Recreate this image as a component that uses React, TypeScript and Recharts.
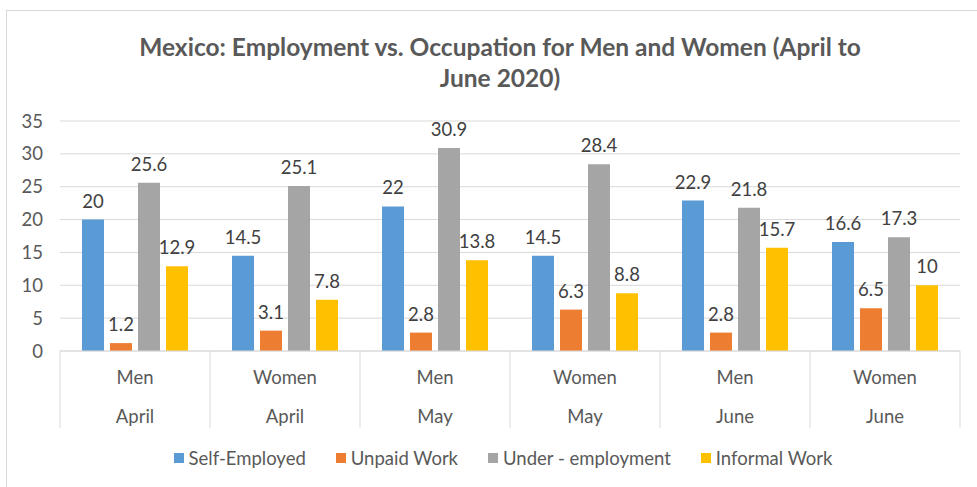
import React from "react";
import {
  BarChart,
  Bar,
  XAxis,
  YAxis,
  CartesianGrid,
  Legend,
  LabelList,
} from "recharts";

const sexes = ["Men", "Women", "Men", "Women", "Men", "Women"];
const months = ["April", "April", "May", "May", "June", "June"];
const selfEmployed = [20, 14.5, 22, 14.5, 22.9, 16.6];
const unpaidWork = [1.2, 3.1, 2.8, 6.3, 2.8, 6.5];
const underEmployment = [25.6, 25.1, 30.9, 28.4, 21.8, 17.3];
const informalWork = [12.9, 7.8, 13.8, 8.8, 15.7, 10];
const yTicks = [0, 5, 10, 15, 20, 25, 30, 35];

const seriesList = [
  { key: "selfEmployed", name: "Self-Employed", color: "#5B9BD5" },
  { key: "unpaidWork", name: "Unpaid Work", color: "#ED7D31" },
  { key: "underEmployment", name: "Under - employment", color: "#A5A5A5" },
  { key: "informalWork", name: "Informal Work", color: "#FFC000" },
];

const data = sexes.map((sex, i) => ({
  sex,
  month: months[i],
  selfEmployed: selfEmployed[i],
  unpaidWork: unpaidWork[i],
  underEmployment: underEmployment[i],
  informalWork: informalWork[i],
}));

const FONT = "Lato, 'Open Sans', sans-serif";
const TEXT = "#595959";
const GRID = "#d9d9d9";
const FS = 18.5;

// category label plus the divider lines between categories
function SexTick(props: any) {
  const { x, y, payload } = props;
  const half = payload.offset || 75;
  const last = payload.index === data.length - 1;
  return (
    <g>
      <line x1={x - half} x2={x - half} y1={y} y2={y + 77} stroke={GRID} />
      {last && <line x1={x + half} x2={x + half} y1={y} y2={y + 77} stroke={GRID} />}
      <text x={x} y={y + 26} textAnchor="middle" dominantBaseline="central" fill={TEXT} fontSize={FS} fontFamily={FONT}>
        {payload.value}
      </text>
    </g>
  );
}

function MonthTick(props: any) {
  const { x, y, payload } = props;
  return (
    <text x={x} y={y + 26} textAnchor="middle" dominantBaseline="central" fill={TEXT} fontSize={FS} fontFamily={FONT}>
      {payload.value}
    </text>
  );
}

function LegendContent() {
  return (
    <div
      style={{
        height: 58,
        display: "flex",
        alignItems: "center",
        justifyContent: "center",
        gap: 30,
        paddingLeft: 36,
        fontFamily: FONT,
        fontSize: FS,
        color: TEXT,
      }}
    >
      {seriesList.map((s) => (
        <div key={s.key} style={{ display: "flex", alignItems: "center" }}>
          <span style={{ width: 10, height: 10, background: s.color, marginRight: 5, display: "inline-block" }} />
          {s.name}
        </div>
      ))}
    </div>
  );
}

export default function App() {
  return (
    <div style={{ position: "absolute", left: 0, top: 0, width: 977, height: 487, background: "#fff", overflow: "hidden" }}>
      <div style={{ position: "absolute", left: 6, top: 10, width: 1000, height: 500, border: `1px solid ${GRID}` }} />
      <div
        style={{
          position: "absolute",
          left: 0,
          width: 1000,
          top: 31,
          textAlign: "center",
          fontFamily: FONT,
          fontWeight: 700,
          fontSize: 24.5,
          lineHeight: "31px",
          color: TEXT,
        }}
      >
        Mexico: Employment vs. Occupation for Men and Women (April to
        <br />
        June 2020)
      </div>
      <div style={{ position: "absolute", left: 0, top: 0 }}>
        <BarChart
          width={977}
          height={487}
          data={data}
          margin={{ top: 121, right: 17, left: 10, bottom: 0 }}
          barSize={22}
          barGap={6}
        >
          <CartesianGrid vertical={false} stroke={GRID} />
          <XAxis
            dataKey="sex"
            xAxisId={0}
            height={39}
            tickLine={false}
            tickSize={0}
            tickMargin={0}
            axisLine={{ stroke: GRID }}
            tick={<SexTick />}
            interval={0}
          />
          <XAxis
            dataKey="month"
            xAxisId="month"
            height={39}
            tickLine={false}
            tickSize={0}
            tickMargin={0}
            axisLine={false}
            tick={<MonthTick />}
            interval={0}
          />
          <YAxis
            width={50}
            domain={[0, 35]}
            ticks={yTicks}
            tickLine={false}
            axisLine={false}
            tickSize={0}
            tickMargin={17}
            tick={{ fill: TEXT, fontSize: FS, fontFamily: FONT }}
          />
          <Legend verticalAlign="bottom" content={<LegendContent />} />
          {seriesList.map((s) => (
            <Bar key={s.key} dataKey={s.key} name={s.name} fill={s.color} xAxisId={0} isAnimationActive={false}>
              <LabelList dataKey={s.key} position="top" offset={12} fill="#404040" fontSize={FS} fontFamily={FONT} />
            </Bar>
          ))}
        </BarChart>
      </div>
    </div>
  );
}
